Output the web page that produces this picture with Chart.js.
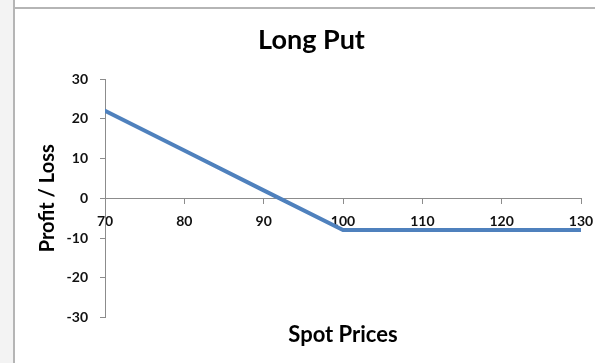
<!DOCTYPE html>
<html lang="en">
<head>
  <meta charset="UTF-8" />
  <title>Long Put</title>
  <script src="https://cdn.jsdelivr.net/npm/chart.js"></script>
  <style>
    body {
      margin: 0;
      width: 595px;
      height: 363px;
      background: #fff;
      position: relative;
      overflow: hidden;
    }
    .side {
      position: absolute;
      left: 0;
      top: 0;
      width: 13px;
      height: 363px;
      background: #f3f3f3;
      border-right: 2px solid #b5b5b5;
    }
    .topline {
      position: absolute;
      left: 15px;
      top: 7px;
      width: 580px;
      height: 2px;
      background: #b5b5b5;
    }
    .wrap {
      position: absolute;
      left: 15px;
      top: 9px;
      width: 580px;
      height: 354px;
    }
  </style>
</head>
<body>
  <div class="side"></div>
  <div class="topline"></div>
  <div class="wrap"><canvas id="payoff" width="580" height="354"></canvas></div>
  <script>
    // payoff of a long put, strike 100
    const spotPrices = [70, 80, 90, 100, 110, 120, 130];
    const profitLoss = [22, 12, 2, -8, -8, -8, -8];

    const axisGray = '#8c8c8c';
    const font = 'Lato, "Open Sans", sans-serif';
    const tickFont = { family: font, size: 14, weight: 'bold' };

    // fixed side gaps for the plot box, whatever the label widths
    const sidePad = (scale) => { scale.paddingLeft = 0; scale.paddingRight = 14; };

    new Chart(document.getElementById('payoff'), {
      type: 'line',
      data: {
        datasets: [{
          data: spotPrices.map((x, i) => ({ x: x, y: profitLoss[i] })),
          borderColor: '#4f81bd',
          borderWidth: 4,
          borderCapStyle: 'round',
          pointRadius: 0,
          tension: 0
        }]
      },
      options: {
        responsive: false,
        animation: false,
        layout: { padding: { left: 14, right: 1, bottom: 15 } },
        plugins: {
          legend: { display: false },
          tooltip: { enabled: false },
          title: {
            display: true,
            text: 'Long Put',
            color: '#000',
            font: { family: font, size: 27, weight: 'bold' },
            padding: { top: 15, bottom: 22.6 }
          }
        },
        scales: {
          x: {
            type: 'linear',
            position: { y: 0 },
            min: 70,
            max: 130,
            border: { color: axisGray, width: 1 },
            grid: { drawOnChartArea: false, color: axisGray, tickLength: 5 },
            ticks: {
              stepSize: 10,
              padding: 10,
              color: '#111',
              font: tickFont
            },
            afterFit: sidePad
          },
          xTitle: {
            type: 'linear',
            axis: 'x',
            position: 'bottom',
            min: 70,
            max: 130,
            border: { display: false },
            grid: { display: false, drawTicks: false },
            ticks: { display: false },
            title: {
              display: true,
              text: 'Spot Prices',
              color: '#000',
              font: { family: font, size: 22, weight: 'bold' },
              padding: { top: 4, bottom: 0 }
            },
            afterFit: sidePad
          },
          y: {
            min: -30,
            max: 30,
            border: { color: axisGray, width: 1 },
            grid: { drawOnChartArea: false, color: axisGray, tickLength: 5 },
            ticks: {
              stepSize: 10,
              padding: 12,
              color: '#111',
              font: tickFont
            },
            title: {
              display: true,
              text: 'Profit / Loss',
              color: '#000',
              font: { family: font, size: 20, weight: 'bold' },
              padding: { top: 7, bottom: 0 }
            },
            afterFit: (scale) => { scale.width = 76; }
          }
        }
      }
    });
  </script>
</body>
</html>
